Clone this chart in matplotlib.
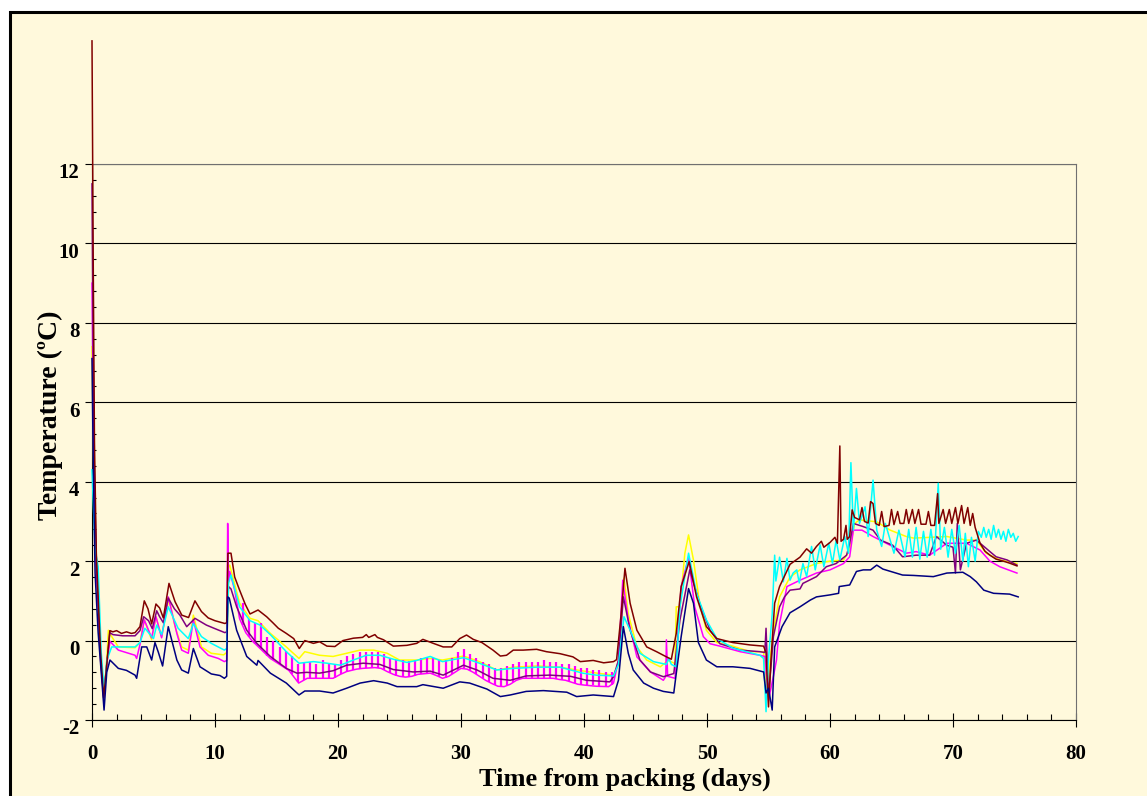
import numpy as np
import matplotlib.pyplot as plt
from matplotlib.patches import Rectangle
from matplotlib.ticker import MultipleLocator
import matplotlib.transforms as mtransforms

# logger traces: (day, temperature) pairs read per probe
maroon_pts = [
    (0.0, 15.1), (0.1, 9.5), (0.2, 5.0), (0.35, 2.2), (0.5, 1.1), (0.7, -0.3), (0.95, -1.45),
    (1.2, -0.6), (1.45, 0.25), (1.7, 0.22), (2.0, 0.25), (2.4, 0.18), (2.8, 0.22), (3.2, 0.18),
    (3.5, 0.2), (3.9, 0.35), (4.25, 1.0), (4.55, 0.8), (4.85, 0.42), (5.2, 0.92), (5.5, 0.82),
    (5.8, 0.57), (6.26, 1.44), (6.75, 0.98), (7.3, 0.64), (7.85, 0.58), (8.37, 1.0), (8.9, 0.73),
    (9.45, 0.57), (10.0, 0.5), (10.8, 0.43), (10.95, 0.45), (11.05, 2.2), (11.3, 2.2), (11.6, 1.6),
    (12.0, 1.27), (12.45, 0.92), (12.85, 0.67), (13.5, 0.77), (14.2, 0.6), (14.7, 0.45),
    (15.15, 0.31), (15.8, 0.18), (16.4, 0.05), (16.85, -0.2), (17.3, 0.0), (18.0, -0.07),
    (18.5, -0.03), (19.1, -0.14), (19.75, -0.15), (20.4, 0.0), (21.25, 0.06), (22.0, 0.08),
    (22.3, 0.15), (22.5, 0.08), (23.0, 0.15), (23.2, 0.08), (23.7, 0.02), (24.5, -0.14),
    (25.6, -0.12), (26.4, -0.07), (26.9, 0.03), (27.75, -0.07), (28.55, -0.16), (29.25, -0.16),
    (29.9, 0.05), (30.45, 0.14), (31.0, 0.03), (31.7, -0.05), (32.6, -0.24), (33.2, -0.39),
    (33.7, -0.37), (34.25, -0.24), (35.05, -0.24), (36.15, -0.22), (36.95, -0.28), (38.05, -0.33),
    (39.1, -0.41), (39.7, -0.53), (40.75, -0.5), (41.6, -0.56), (42.4, -0.53), (42.65, -0.48),
    (43.0, 0.6), (43.33, 1.82), (43.75, 0.94), (44.3, 0.26), (45.1, -0.16), (45.9, -0.28),
    (46.7, -0.41), (47.1, -0.47), (47.5, 0.18), (47.9, 1.36), (48.55, 1.99), (49.15, 1.1),
    (49.95, 0.35), (50.8, 0.05), (52.1, -0.05), (53.5, -0.11), (54.6, -0.14), (54.8, -0.3),
    (55.0, -1.67), (55.2, -0.5), (55.5, 0.94), (55.9, 1.36), (56.75, 1.92), (57.56, 2.1),
    (58.1, 2.31), (58.5, 2.2), (58.9, 2.37), (59.3, 2.5), (59.5, 2.35), (60.0, 2.47), (60.4, 2.6),
    (60.6, 2.45), (60.8, 4.9), (60.9, 2.5), (61.1, 2.55), (61.3, 2.9), (61.4, 2.55), (61.6, 2.62),
    (61.8, 3.29), (62.0, 3.1), (62.4, 3.04), (62.6, 3.35), (62.8, 3.0), (63.1, 2.96), (63.3, 3.5),
    (63.5, 3.45), (63.7, 2.95), (64.0, 2.9), (64.2, 3.25), (64.4, 2.87), (64.8, 2.9), (65.0, 3.3),
    (65.2, 2.92), (65.5, 3.25), (65.7, 2.95), (66.0, 2.95), (66.2, 3.3), (66.4, 2.95), (66.7, 3.3),
    (66.9, 2.95), (67.2, 3.3), (67.4, 2.93), (67.8, 2.93), (68.0, 3.25), (68.2, 2.9), (68.5, 2.9),
    (68.75, 3.7), (68.85, 2.95), (69.2, 3.3), (69.4, 2.95), (69.7, 3.3), (69.9, 2.95), (70.2, 3.35),
    (70.4, 2.95), (70.7, 3.4), (70.9, 2.95), (71.2, 3.35), (71.4, 2.9), (71.6, 3.2), (71.8, 2.85),
    (72.2, 2.45), (72.6, 2.25), (73.0, 2.15), (73.5, 2.05), (74.1, 2.0), (74.6, 1.95), (75.2, 1.88),
]

purple_pts = [
    (0.0, 11.5), (0.1, 7.0), (0.2, 4.0), (0.35, 2.0), (0.5, 1.0), (0.7, -0.4), (0.95, -1.4),
    (1.2, -0.6), (1.45, 0.2), (1.7, 0.15), (2.5, 0.12), (3.5, 0.12), (3.9, 0.25), (4.2, 0.6),
    (4.6, 0.5), (4.9, 0.3), (5.26, 0.75), (5.5, 0.6), (5.8, 0.45), (6.2, 1.07), (6.7, 0.8),
    (7.15, 0.64), (7.7, 0.35), (8.37, 0.56), (9.3, 0.39), (10.0, 0.3), (10.8, 0.2), (10.95, 0.22),
    (11.1, 1.36), (11.3, 1.3), (11.76, 0.85), (12.58, 0.26), (13.4, -0.07), (14.5, -0.4),
    (15.8, -0.7), (16.65, -0.82), (17.45, -0.8), (18.5, -0.82), (19.6, -0.76), (20.7, -0.62),
    (22.05, -0.57), (23.4, -0.6), (24.5, -0.73), (26.1, -0.79), (27.5, -0.77), (28.55, -0.87),
    (30.2, -0.62), (31.3, -0.74), (32.6, -0.95), (34.0, -1.0), (35.3, -0.89), (37.2, -0.87),
    (38.9, -0.9), (40.2, -1.0), (42.1, -1.04), (42.4, -0.91), (42.8, -0.5), (43.2, 1.1),
    (43.75, 0.26), (44.55, -0.49), (45.4, -0.79), (46.45, -0.91), (47.3, -0.83), (47.8, 0.52),
    (48.6, 1.78), (49.4, 0.94), (50.25, 0.26), (51.05, -0.08), (52.7, -0.24), (54.3, -0.28),
    (54.7, -0.3), (54.8, 0.31), (55.0, -1.41), (55.4, 0.1), (55.9, 0.85), (56.3, 1.1),
    (56.75, 1.27), (57.56, 1.3), (57.8, 1.44), (58.9, 1.61), (59.7, 1.86), (60.5, 1.94),
    (61.35, 2.15), (61.6, 2.45), (61.9, 2.95), (62.7, 2.87), (63.5, 2.78), (64.1, 2.53),
    (65.1, 2.4), (65.9, 2.11), (67.0, 2.15), (68.1, 2.15), (68.65, 2.62), (69.5, 2.4),
    (70.0, 2.35), (70.2, 1.7), (70.35, 2.95), (70.6, 1.78), (71.1, 2.45), (71.9, 2.53),
    (72.7, 2.32), (73.5, 2.11), (74.4, 2.03), (75.2, 1.9),
]

yellow_pts = [
    (0.0, 7.4), (0.1, 5.0), (0.2, 3.0), (0.35, 1.6), (0.5, 0.8), (0.7, -0.5), (0.95, -1.45),
    (1.2, -0.5), (1.33, 0.26), (1.6, 0.1), (2.14, -0.16), (3.5, -0.18), (3.9, -0.05),
    (4.25, 0.52), (4.85, 0.02), (5.2, 0.6), (5.66, 0.1), (6.26, 1.07), (6.75, 0.35),
    (7.29, -0.16), (7.83, -0.24), (8.24, 0.64), (8.9, -0.16), (9.7, -0.32), (10.7, -0.36),
    (10.95, -0.3), (11.1, 1.86), (11.2, 1.9), (12.0, 0.94), (12.85, 0.56), (13.5, 0.5),
    (14.5, 0.18), (15.8, -0.16), (16.83, -0.45), (17.3, -0.28), (18.5, -0.37), (19.6, -0.4),
    (20.7, -0.32), (21.8, -0.24), (22.9, -0.24), (24.0, -0.32), (25.0, -0.49), (26.4, -0.49),
    (27.5, -0.45), (28.5, -0.49), (30.2, -0.39), (31.5, -0.53), (32.9, -0.74), (34.25, -0.67),
    (36.15, -0.64), (38.05, -0.67), (39.4, -0.74), (41.05, -0.82), (42.4, -0.87), (42.8, -0.6),
    (43.25, 1.57), (43.6, 0.67), (44.3, -0.16), (45.1, -0.49), (46.2, -0.66), (46.85, -0.5),
    (47.4, -0.58), (47.5, 0.85), (47.8, 0.85), (48.2, 2.2), (48.5, 2.66), (48.9, 2.03),
    (49.4, 0.94), (49.95, 0.26), (50.8, -0.05), (52.1, -0.14), (53.5, -0.28), (54.6, -0.28),
    (54.85, -1.32), (55.4, 0.26), (55.9, 1.1), (56.75, 1.6), (57.56, 1.78), (58.9, 1.94),
    (60.0, 2.0), (61.1, 2.03), (61.6, 2.28), (62.0, 2.95), (62.4, 3.04), (63.8, 2.99),
    (64.9, 2.78), (66.2, 2.62), (66.8, 2.58), (69.5, 2.62), (71.1, 2.53), (71.9, 2.53),
    (72.7, 2.2), (73.8, 2.03), (75.2, 1.94),
]

cyan_pts = [
    (0.0, 4.3), (0.1, 3.5), (0.25, 2.3), (0.5, 1.86), (0.75, -0.3), (1.0, -1.3), (1.2, -0.5),
    (1.6, -0.16), (3.5, -0.16), (3.9, -0.05), (4.3, 0.31), (5.0, 0.05), (5.26, 0.39),
    (5.66, 0.15), (6.2, 0.85), (7.0, 0.31), (7.83, 0.05), (8.24, 0.43), (8.9, 0.1), (9.7, -0.07),
    (10.76, -0.24), (10.95, -0.2), (11.1, 1.44), (11.3, 1.65), (12.0, 0.85), (12.85, 0.5),
    (13.66, 0.39), (14.5, 0.15), (15.8, -0.28), (16.83, -0.57), (18.0, -0.53), (19.1, -0.57),
    (20.2, -0.62), (21.25, -0.49), (22.3, -0.37), (23.4, -0.37), (24.5, -0.47), (25.6, -0.55),
    (26.4, -0.5), (27.5, -0.4), (28.5, -0.53), (30.2, -0.43), (31.5, -0.57), (32.9, -0.74),
    (34.25, -0.7), (36.15, -0.67), (38.05, -0.67), (39.9, -0.82), (41.0, -0.87), (42.4, -0.89),
    (42.8, -0.6), (43.25, 0.6), (43.75, 0.26), (44.55, -0.32), (45.65, -0.53), (46.7, -0.6),
    (46.9, -0.45), (47.1, -0.6), (47.5, -0.66), (47.8, 0.85), (48.5, 2.2), (49.15, 1.19),
    (49.95, 0.52), (50.8, 0.05), (52.1, -0.19), (53.2, -0.28), (54.3, -0.37), (54.6, -0.45),
    (54.8, -1.79), (55.0, -0.45), (55.3, 0.67), (55.5, 2.15), (55.6, 1.5), (55.9, 2.1),
    (56.2, 1.48), (56.5, 2.07), (56.75, 1.52), (57.0, 1.7), (57.3, 1.78), (57.5, 1.45),
    (57.8, 1.94), (58.1, 1.61), (58.5, 2.37), (58.8, 1.78), (59.2, 2.41), (59.5, 1.86),
    (59.9, 2.45), (60.2, 1.94), (60.5, 2.53), (60.8, 2.03), (61.2, 2.62), (61.5, 2.2),
    (61.7, 4.48), (61.9, 2.78), (62.15, 3.83), (62.4, 2.95), (62.85, 3.37), (63.1, 2.62),
    (63.5, 4.04), (63.8, 2.78), (64.2, 2.37), (64.5, 2.95), (65.2, 2.2), (65.6, 2.78),
    (66.1, 2.11), (66.4, 2.8), (66.7, 2.1), (67.0, 2.85), (67.3, 2.05), (67.6, 2.75),
    (67.9, 2.1), (68.2, 2.8), (68.5, 2.15), (68.8, 3.96), (69.0, 2.3), (69.3, 2.85), (69.6, 2.1),
    (69.9, 2.8), (70.2, 2.2), (70.5, 2.9), (70.8, 2.0), (71.0, 2.7), (71.25, 1.86), (71.5, 2.6),
    (71.8, 2.0), (72.06, 2.75), (72.3, 2.6), (72.5, 2.85), (72.7, 2.6), (72.9, 2.8), (73.1, 2.55),
    (73.3, 2.9), (73.5, 2.6), (73.7, 2.8), (73.9, 2.55), (74.1, 2.75), (74.3, 2.5), (74.5, 2.8),
    (74.7, 2.6), (74.9, 2.7), (75.1, 2.5), (75.3, 2.62),
]

magenta_pts = [
    (0.0, 9.0), (0.1, 6.0), (0.2, 3.5), (0.35, 1.8), (0.5, 0.9), (0.7, -0.5), (0.95, -1.45),
    (1.2, -0.6), (1.46, -0.02), (2.14, -0.24), (3.5, -0.37), (3.63, -0.45), (3.9, -0.1),
    (4.25, 0.52), (4.85, 0.07), (5.2, 0.6), (5.66, 0.07), (6.2, 1.1), (6.9, 0.18), (7.29, -0.24),
    (7.83, -0.32), (8.24, 0.52), (8.78, -0.16), (9.45, -0.37), (10.27, -0.45), (10.76, -0.53),
    (10.95, -0.5), (11.03, 2.95), (11.1, 1.5), (11.2, 1.74), (11.6, 1.27), (12.0, 0.55),
    (12.5, 0.2), (13.0, 0.0), (13.5, -0.15), (14.0, -0.3), (14.5, -0.45), (15.0, -0.55),
    (15.5, -0.65), (16.0, -0.75), (16.5, -0.95), (16.8, -1.07), (17.5, -0.95), (18.0, -0.95),
    (19.0, -0.95), (19.6, -0.95), (20.2, -0.85), (20.7, -0.78), (21.5, -0.72), (22.0, -0.7),
    (23.0, -0.68), (23.5, -0.7), (24.0, -0.78), (24.5, -0.85), (25.0, -0.9), (25.5, -0.92),
    (26.0, -0.9), (26.5, -0.85), (27.5, -0.82), (28.0, -0.88), (28.5, -0.95), (29.0, -0.9),
    (29.5, -0.8), (30.0, -0.7), (30.5, -0.72), (31.0, -0.8), (31.5, -0.9), (32.0, -1.0),
    (32.5, -1.08), (33.0, -1.15), (33.5, -1.16), (34.0, -1.1), (34.5, -1.0), (35.0, -0.95),
    (37.5, -0.95), (38.0, -0.98), (38.5, -1.0), (39.0, -1.05), (39.5, -1.1), (40.0, -1.12),
    (41.0, -1.15), (42.0, -1.16), (42.4, -1.07), (42.8, -0.5), (43.15, 1.52), (43.6, 0.52),
    (44.3, -0.41), (45.4, -0.79), (46.45, -1.0), (46.65, -0.9), (46.7, 0.02), (46.8, -0.9),
    (47.4, -0.95), (47.9, 1.36), (48.5, 2.1), (49.0, 0.85), (49.7, 0.1), (50.25, -0.08),
    (51.05, -0.14), (52.7, -0.28), (54.3, -0.37), (54.7, -0.4), (55.0, -1.5), (55.4, -0.9),
    (55.65, -0.49), (55.9, 0.43), (56.5, 1.36), (57.56, 1.52), (58.9, 1.7), (60.0, 1.78),
    (61.1, 1.94), (61.6, 2.11), (61.9, 2.78), (62.6, 2.78), (63.5, 2.62), (64.9, 2.4),
    (66.2, 2.2), (67.0, 2.24), (68.1, 2.15), (69.5, 2.45), (71.1, 2.45), (72.2, 2.28),
    (73.0, 2.0), (73.8, 1.86), (75.2, 1.7),
]

# short defrost spikes on the magenta probe: day, foot, top
magenta_spike_days = [12.25, 12.75, 13.25, 13.75, 14.25, 14.75, 15.25, 15.75, 16.25, 16.75,
                      17.25, 17.75, 18.25, 18.75, 19.25, 19.75, 20.25, 20.75, 21.25, 21.75,
                      22.25, 22.75, 23.25, 23.75, 24.25, 24.75, 25.25, 25.75, 26.25, 26.75,
                      27.25, 27.75, 28.25, 28.75, 29.25, 29.75, 30.25, 30.75, 31.25, 31.75,
                      32.25, 32.75, 33.25, 33.75, 34.25, 34.75, 35.25, 35.75, 36.25, 36.75,
                      37.25, 37.75, 38.25, 38.75, 39.25, 39.75, 40.25, 40.75, 41.25, 41.75,
                      42.25]
magenta_spike_lo = [0.4, 0.1, -0.08, -0.22, -0.38, -0.5, -0.6, -0.7, -0.85, -1.05,
                    -1.0, -0.95, -0.95, -0.95, -0.95, -0.93, -0.85, -0.78, -0.74, -0.71,
                    -0.69, -0.68, -0.69, -0.74, -0.82, -0.88, -0.91, -0.91, -0.88, -0.85,
                    -0.84, -0.85, -0.92, -0.93, -0.85, -0.75, -0.7, -0.76, -0.85, -0.95,
                    -1.04, -1.12, -1.16, -1.13, -1.05, -0.97, -0.95, -0.95, -0.95, -0.95,
                    -0.95, -0.96, -0.99, -1.02, -1.08, -1.11, -1.12, -1.13, -1.15, -1.15,
                    -1.13]
magenta_spike_hi = [0.95, 0.55, 0.45, 0.45, 0.1, 0.0, -0.15, -0.25, -0.4, -0.6,
                    -0.55, -0.55, -0.6, -0.5, -0.6, -0.6, -0.5, -0.4, -0.35, -0.3,
                    -0.28, -0.3, -0.3, -0.35, -0.45, -0.5, -0.5, -0.52, -0.5, -0.45,
                    -0.45, -0.45, -0.5, -0.5, -0.45, -0.3, -0.22, -0.35, -0.45, -0.55,
                    -0.6, -0.7, -0.7, -0.65, -0.6, -0.55, -0.55, -0.55, -0.55, -0.5,
                    -0.55, -0.55, -0.6, -0.6, -0.65, -0.7, -0.7, -0.75, -0.75, -0.8,
                    -0.8]

navy_pts = [
    (0.0, 7.1), (0.1, 4.5), (0.25, 1.7), (0.5, 0.2), (0.75, -0.8), (0.98, -1.75), (1.2, -0.8),
    (1.46, -0.49), (2.14, -0.7), (2.8, -0.75), (3.5, -0.87), (3.63, -0.95), (4.04, -0.16),
    (4.45, -0.16), (4.85, -0.49), (5.12, -0.05), (5.4, -0.3), (5.74, -0.64), (6.2, 0.35),
    (6.9, -0.49), (7.29, -0.74), (7.83, -0.82), (8.24, -0.2), (8.78, -0.66), (9.7, -0.84),
    (10.4, -0.88), (10.76, -0.95), (10.95, -0.9), (11.03, 1.1), (11.16, 1.07), (11.76, 0.26),
    (12.58, -0.4), (13.4, -0.62), (13.5, -0.5), (14.5, -0.82), (15.8, -1.07), (16.83, -1.37),
    (17.3, -1.27), (18.5, -1.27), (19.6, -1.32), (20.7, -1.2), (21.8, -1.07), (22.9, -1.01),
    (24.0, -1.07), (24.8, -1.16), (26.4, -1.16), (26.9, -1.11), (28.55, -1.2), (29.9, -1.04),
    (30.7, -1.07), (32.1, -1.22), (33.2, -1.41), (34.0, -1.37), (35.3, -1.28), (36.7, -1.26),
    (38.6, -1.3), (39.4, -1.41), (40.75, -1.37), (42.4, -1.41), (42.8, -1.0), (43.2, 0.35),
    (43.6, -0.32), (44.0, -0.74), (44.85, -1.07), (45.65, -1.2), (46.45, -1.28), (47.3, -1.32),
    (47.5, -0.83), (47.9, 0.1), (48.5, 1.31), (48.9, 0.94), (49.3, -0.05), (49.95, -0.49),
    (50.8, -0.66), (52.1, -0.66), (53.5, -0.7), (54.6, -0.79), (54.8, -1.32), (55.0, -1.2),
    (55.3, -1.75), (55.5, -0.16), (56.1, 0.35), (56.75, 0.7), (57.56, 0.85), (58.4, 1.02),
    (58.9, 1.1), (60.0, 1.15), (60.7, 1.19), (60.75, 1.36), (61.6, 1.4), (62.15, 1.74),
    (62.7, 1.78), (63.3, 1.78), (63.8, 1.9), (64.3, 1.8), (65.9, 1.65), (66.8, 1.64),
    (68.4, 1.61), (69.5, 1.7), (70.8, 1.72), (71.4, 1.61), (71.9, 1.48), (72.5, 1.27),
    (73.3, 1.19), (74.6, 1.17), (75.3, 1.1),
]

bg = '#FFF9DC'
plt.rcParams['font.family'] = ['Liberation Serif', 'DejaVu Serif']
plt.rcParams['font.weight'] = 'bold'
plt.rcParams['axes.unicode_minus'] = False

W, H = 1147, 796
fig = plt.figure(figsize=(W / 100, H / 100), dpi=100)
fig.patch.set_facecolor('white')
fig.patches.append(Rectangle((10 / W, -0.05), 1.2, 1 - 12 / H + 0.05,
                             transform=fig.transFigure, facecolor=bg,
                             edgecolor='black', linewidth=2.2, zorder=-10))

ax = fig.add_axes([92 / W, 76 / H, 984 / W, 556 / H])
ax.set_facecolor(bg)
ax.set_xlim(0, 80)
ax.set_ylim(-2, 12)

for pts, col in [(yellow_pts, '#FFFF00'), (magenta_pts, '#FF00FF'),
                 (purple_pts, '#800080'), (cyan_pts, '#00FFFF'),
                 (maroon_pts, '#800000'), (navy_pts, '#000080')]:
    d, t = np.array(pts).T
    ax.plot(d, t, color=col, lw=1.1, clip_on=False, zorder=3)
    if col == '#FF00FF':
        ax.vlines(magenta_spike_days, magenta_spike_lo, magenta_spike_hi,
                  color=col, lw=1.6, zorder=3)

ax.xaxis.set_major_locator(MultipleLocator(10))
ax.xaxis.set_minor_locator(MultipleLocator(2))
ax.yaxis.set_major_locator(MultipleLocator(2))
ax.yaxis.set_minor_locator(MultipleLocator(0.4))
ax.yaxis.grid(True, which='major', color='black', lw=0.8)
ax.set_axisbelow(True)
for s in ax.spines.values():
    s.set_linewidth(0.8)
ax.spines['top'].set_color('#707070')
ax.spines['right'].set_color('#707070')

ax.tick_params(axis='x', which='major', direction='inout', length=10, width=0.8,
               labelsize=15, pad=12)
ax.tick_params(axis='x', which='minor', direction='in', length=4, width=0.8)
ax.tick_params(axis='y', which='major', direction='out', length=5, width=0.8,
               labelsize=15, pad=4)
ax.tick_params(axis='y', which='minor', direction='in', length=3, width=0.8)

# the value labels sit a little below their grid lines
shift = mtransforms.ScaledTranslation(0, -7 / 100, fig.dpi_scale_trans)
for lab in ax.get_yticklabels():
    lab.set_transform(lab.get_transform() + shift)

fig.text(625 / W, 1 - 779 / H, 'Time from packing (days)', ha='center', va='center',
         fontsize=19, fontweight='bold')
fig.text(50 / W, 1 - 415 / H, 'Temperature (ºC)', ha='center', va='center',
         rotation=90, fontsize=20, fontweight='bold')

fig.savefig('out.png', dpi=100, facecolor='white')
